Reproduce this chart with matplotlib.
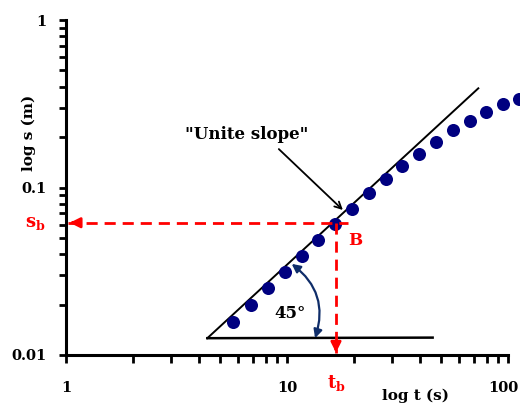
import matplotlib
matplotlib.use("Agg")
import matplotlib.pyplot as plt
import matplotlib.transforms as mtransforms
from matplotlib.ticker import FixedLocator, FixedFormatter, LogLocator, NullFormatter

# data
t_data = [5.71, 6.87, 8.18, 9.82, 11.66, 13.86, 16.49, 19.63, 23.38, 27.97,
          33.24, 39.56, 47.1, 56.4, 67.1, 79.5, 95.2, 112.5]
s_data = [0.0158, 0.0199, 0.0252, 0.0314, 0.0392, 0.0486, 0.0606, 0.0741, 0.0921, 0.112,
          0.134, 0.159, 0.188, 0.220, 0.249, 0.284, 0.314, 0.338]
slope_t = [4.36, 73.4]
slope_s = [0.0126, 0.391]
base_t = [4.36, 45.6]
base_s = [0.0126, 0.0127]
t_b = 16.66
s_b = 0.0616
x_ticks = [1, 10, 100]
x_labels = ["1", "10", "100"]
y_ticks = [0.01, 0.1, 1]
y_labels = ["0.01", "0.1", "1"]

plt.rcParams['font.family'] = ['DejaVu Serif']
plt.rcParams['font.weight'] = 'bold'
plt.rcParams['mathtext.fontset'] = 'dejavuserif'

fig = plt.figure(figsize=(5.2, 4.07), dpi=100)
ax = fig.add_axes([66/520, 52/407, 442/520, 335/407])
ax.set_xscale('log')
ax.set_yscale('log')
ax.set_xlim(1, 100)
ax.set_ylim(0.01, 1)

# unit-slope line and base line
ax.plot(slope_t, slope_s, color='black', lw=1.4, zorder=2)
ax.plot(base_t, base_s, color='black', lw=1.8, zorder=2)

# data points
ax.plot(t_data, s_data, 'o', color='#000080', ms=9.4, mew=0, zorder=3, clip_on=False)

# red dashed guides
ax.plot([1.02, 18.9], [s_b, s_b], color='red', lw=2, ls=(0, (4, 2.5)), zorder=4)
ax.plot([t_b, t_b], [s_b, 0.0103], color='red', lw=2, ls=(0, (4, 2.5)), zorder=4)
ax.annotate('', xy=(1.01, s_b), xytext=(1.12, s_b),
            arrowprops=dict(arrowstyle='-|>,head_length=0.6,head_width=0.3', color='red', lw=2), zorder=5)
ax.annotate('', xy=(t_b, 0.00995), xytext=(t_b, 0.0115),
            arrowprops=dict(arrowstyle='-|>,head_length=0.6,head_width=0.3', color='red', lw=2), zorder=5,
            annotation_clip=False)

# spines and ticks
for s in ['top', 'right']:
    ax.spines[s].set_visible(False)
for s in ['left', 'bottom']:
    ax.spines[s].set_linewidth(2.2)
ax.xaxis.set_major_locator(FixedLocator(x_ticks))
ax.xaxis.set_major_formatter(FixedFormatter(x_labels))
ax.yaxis.set_major_locator(FixedLocator(y_ticks))
ax.yaxis.set_major_formatter(FixedFormatter(y_labels))
ax.xaxis.set_minor_locator(LogLocator(base=10, subs=range(2, 10)))
ax.yaxis.set_minor_locator(LogLocator(base=10, subs=range(2, 10)))
ax.xaxis.set_minor_formatter(NullFormatter())
ax.yaxis.set_minor_formatter(NullFormatter())
ax.tick_params(axis='x', which='both', direction='out', length=6, width=2, pad=13, labelsize=10.5)
ax.tick_params(axis='y', which='both', direction='out', length=5, width=2, pad=9, labelsize=10.5)
for lab in ax.get_xticklabels() + ax.get_yticklabels():
    lab.set_fontweight('bold')
# nudge the last x label so it stays inside the picture
last = ax.get_xticklabels()[-1]
last.set_transform(last.get_transform() + mtransforms.ScaledTranslation(-5/100, 0, fig.dpi_scale_trans))

# texts
ax.text(-0.07, s_b, r'$\mathbf{s_b}$', color='red', transform=ax.get_yaxis_transform(),
        ha='center', va='center', fontsize=13)
ax.text(t_b, -0.085, r'$\mathbf{t_b}$', color='red', transform=ax.get_xaxis_transform(),
        ha='center', va='center', fontsize=13)
ax.text(19.0, 0.0485, 'B', color='red', ha='left', va='center', fontsize=12, fontweight='bold')
ax.text(10.3, 0.0178, '45°', color='black', ha='center', va='center', fontsize=12, fontweight='bold')
ax.annotate('"Unite slope"', xy=(17.9, 0.0734), xytext=(6.59, 0.206),
            ha='center', va='center', fontsize=12, fontweight='bold',
            arrowprops=dict(arrowstyle='->', color='black', lw=1.3, shrinkA=3, shrinkB=0,
                            relpos=(0.71, 0.0)))
# curved double arrow 45°
ax.annotate('', xy=(13.4, 0.0126), xytext=(10.5, 0.035),
            arrowprops=dict(arrowstyle='<|-|>,head_length=0.5,head_width=0.25', color='#0f2d69', lw=1.6,
                            connectionstyle='arc3,rad=-0.35', shrinkA=0, shrinkB=0))

fig.text(415/520, 1 - 396/407, 'log t (s)', ha='center', va='center', fontsize=11, fontweight='bold')
fig.text(29/520, 1 - 133/407, 'log s (m)', ha='center', va='center', rotation=90, fontsize=11, fontweight='bold')

fig.savefig('out.png', dpi=100)
